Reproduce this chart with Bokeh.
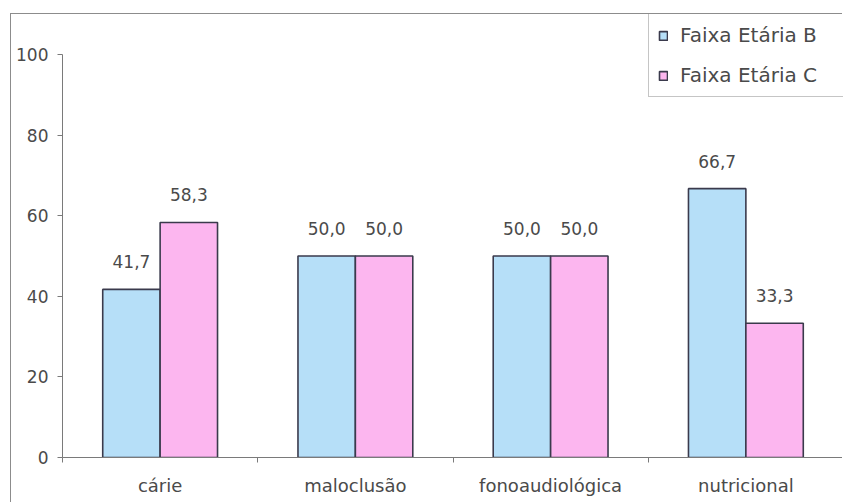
from bokeh.plotting import figure
from bokeh.models import Range1d, FixedTicker, Legend, LegendItem, ColumnDataSource
from bokeh.core.properties import value
from bokeh.embed import file_html
from bokeh.resources import INLINE

# Percentual de alterações por faixa etária
categories = ["cárie", "maloclusão", "fonoaudiológica", "nutricional"]
faixa_b = [41.7, 50.0, 50.0, 66.7]
faixa_c = [58.3, 50.0, 50.0, 33.3]
series_names = ["Faixa Etária B", "Faixa Etária C"]
y_ticks = [0, 20, 40, 60, 80, 100]

FONT = "DejaVu Sans"
TEXT = "#4a4a4a"
BLUE = "#b6dff8"
PINK = "#fcb6ef"
EDGE = "#3a3a4c"
BAR_W = 0.294

idx = list(range(len(categories)))
x_b = [i + 0.5 - BAR_W / 2 for i in idx]
x_c = [i + 0.5 + BAR_W / 2 for i in idx]


def fmt(v):
    return f"{v:.1f}".replace(".", ",")


src_b = ColumnDataSource(dict(x=x_b, top=faixa_b, label=[fmt(v) for v in faixa_b]))
src_c = ColumnDataSource(dict(x=x_c, top=faixa_c, label=[fmt(v) for v in faixa_c]))

# the frame reaches up to the chart border so the legend can sit above the axis top
p = figure(
    width=832, height=489,
    x_range=Range1d(0, len(categories)), y_range=Range1d(0, 109.9),
    output_backend="svg", toolbar_location=None,
    min_border_left=51, min_border_top=0, min_border_right=0, min_border_bottom=46,
)
p.styles = {
    "margin-left": "10px", "margin-top": "13px",
    "border-left": "1px solid #8c8c8c", "border-top": "1px solid #8c8c8c",
}
p.outline_line_color = None
p.background_fill_color = "white"
p.border_fill_color = "white"
p.xgrid.visible = False
p.ygrid.visible = False

rb = p.vbar(x="x", top="top", width=BAR_W, bottom=0, source=src_b,
            fill_color=BLUE, line_color=EDGE, line_width=1.6)
rc = p.vbar(x="x", top="top", width=BAR_W, bottom=0, source=src_c,
            fill_color=PINK, line_color=EDGE, line_width=1.6)

for src in (src_b, src_c):
    p.text(x="x", y="top", text="label", source=src,
           text_align="center", text_baseline="bottom", y_offset=-21,
           text_font=value(FONT), text_font_size="17px", text_color=TEXT)

# y axis, drawn only from 0 to 100
ya = p.yaxis[0]
ya.ticker = FixedTicker(ticks=y_ticks)
ya.bounds = (0, 100)
ya.major_tick_out = 5
ya.major_tick_in = 0
ya.minor_tick_out = 0
ya.minor_tick_in = 0
ya.axis_line_color = "#7a7a7a"
ya.major_tick_line_color = "#7a7a7a"
ya.major_label_text_font = FONT
ya.major_label_text_font_size = "17px"
ya.major_label_text_color = TEXT
ya.major_label_standoff = 9

# x axis: labels at group centres, ticks on group boundaries
xa = p.xaxis[0]
xa.ticker = FixedTicker(ticks=[i + 0.5 for i in idx],
                        minor_ticks=list(range(len(categories) + 1)))
xa.major_label_overrides = {i + 0.5: c for i, c in zip(idx, categories)}
xa.major_tick_out = 0
xa.major_tick_in = 0
xa.minor_tick_out = 5
xa.minor_tick_in = 0
xa.axis_line_color = "#7a7a7a"
xa.minor_tick_line_color = "#7a7a7a"
xa.major_label_text_font = FONT
xa.major_label_text_font_size = "18px"
xa.major_label_text_color = TEXT
xa.major_label_standoff = 12

legend = Legend(
    items=[LegendItem(label=series_names[0], renderers=[rb]),
           LegendItem(label=series_names[1], renderers=[rc])],
    location=(586, 360), margin=0, padding=9, spacing=16,
    glyph_width=10, glyph_height=11, label_standoff=12, label_width=200,
    label_text_font=FONT, label_text_font_size="20px", label_text_color=TEXT,
    border_line_color="#8c8c8c", border_line_width=1,
    background_fill_color="white", background_fill_alpha=1,
)
p.add_layout(legend, "center")

open("out.html", "w").write(file_html(p, INLINE))
